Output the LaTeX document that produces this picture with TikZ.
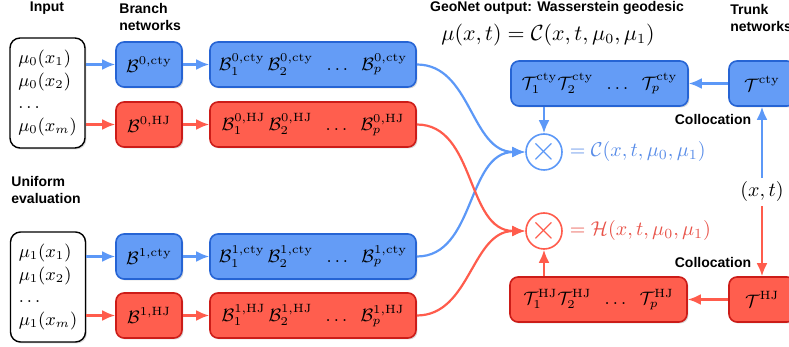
\documentclass[tikz,border=0pt]{standalone}
\usepackage{fontspec}
\newfontfamily\lblfont{Liberation Sans}
\usetikzlibrary{arrows.meta,positioning,shadows}
\definecolor{ctyfill}{RGB}{100,156,246}
\definecolor{ctydraw}{RGB}{38,100,212}
\definecolor{ctyline}{RGB}{92,152,247}
\definecolor{ctytext}{RGB}{88,140,232}
\definecolor{hjfill}{RGB}{255,94,78}
\definecolor{hjdraw}{RGB}{204,28,24}
\definecolor{hjline}{RGB}{255,92,76}
\definecolor{hjtext}{RGB}{232,82,72}
\begin{document}
\begin{tikzpicture}[x=0.5pt,y=-0.5pt,>={Latex[length=6.5pt,width=5.5pt]},
	every node/.style={font=\fontsize{9}{11.3}\selectfont},
	netbox/.style={rounded corners=4pt,line width=0.8pt,minimum height=22.5pt,inner sep=0pt,
		drop shadow={shadow xshift=0.7pt,shadow yshift=-0.7pt,opacity=0.3}},
	cty/.style={netbox,draw=ctydraw,fill=ctyfill},
	hj/.style={netbox,draw=hjdraw,fill=hjfill},
	small/.style={minimum width=33pt},
	wide/.style={minimum width=103pt},
	trunk/.style={minimum width=88.5pt},
	inbox/.style={draw,rounded corners=5pt,line width=0.7pt,fill=white,minimum width=37.5pt,
		minimum height=55pt,align=left,drop shadow={shadow xshift=0.7pt,shadow yshift=-0.7pt,opacity=0.3}},
	lbl/.style={font=\lblfont\bfseries\fontsize{7}{8.5}\selectfont,align=left,inner sep=0pt},
	prod/.style={circle,draw,fill=white,line width=0.8pt,minimum size=18pt,inner sep=0pt,
		font=\fontsize{16}{16}\selectfont},
	ctyarr/.style={->,draw=ctyline,line width=1.1pt},
	hjarr/.style={->,draw=hjline,line width=1.1pt}]
	\useasboundingbox (0,0) rectangle (789,347);
	\clip (0,0) rectangle (789,347);
	% headings
	\node[lbl] (hin) at (47,8) {Input};
	\node[lbl,anchor=west] (hbr) at (119,17) {Branch\\networks};
	\node[lbl,anchor=west] (hun) at (11,190) {Uniform\\evaluation};
	\node[lbl] (hout) at (557,8) {GeoNet output: Wasserstein geodesic};
	\node[font=\fontsize{10.5}{12}\selectfont] (geo) at (548,35) {$\mu(x,t)=\mathcal{C}(x,t,\mu_0,\mu_1)$};
	\node[lbl,anchor=west] (htr) at (730,18) {Trunk\\networks};
	% inputs
	\node[inbox] (in0) at (47.5,93) {$\mu_0(x_1)$\\$\mu_0(x_2)$\\$\dots$\\$\mu_0(x_m)$};
	\node[inbox] (in1) at (48,287) {$\mu_1(x_1)$\\$\mu_1(x_2)$\\$\dots$\\$\mu_1(x_m)$};
	% branch networks
	\node[cty,small] (b0c) at (149,64.5) {$\mathcal{B}^{0,\mathrm{cty}}$};
	\node[hj,small] (b0h) at (149,124.5) {$\mathcal{B}^{0,\mathrm{HJ}}$};
	\node[cty,small] (b1c) at (149,256.5) {$\mathcal{B}^{1,\mathrm{cty}}$};
	\node[hj,small] (b1h) at (149,315.5) {$\mathcal{B}^{1,\mathrm{HJ}}$};
	\node[cty,wide] (l0c) at (313,64.5) {$\mathcal{B}_1^{0,\mathrm{cty}}\,\mathcal{B}_2^{0,\mathrm{cty}}\;\;\dots\;\;\mathcal{B}_p^{0,\mathrm{cty}}$};
	\node[hj,wide] (l0h) at (313,124.5) {$\mathcal{B}_1^{0,\mathrm{HJ}}\,\mathcal{B}_2^{0,\mathrm{HJ}}\;\;\dots\;\;\mathcal{B}_p^{0,\mathrm{HJ}}$};
	\node[cty,wide] (l1c) at (313,256.5) {$\mathcal{B}_1^{1,\mathrm{cty}}\,\mathcal{B}_2^{1,\mathrm{cty}}\;\;\dots\;\;\mathcal{B}_p^{1,\mathrm{cty}}$};
	\node[hj,wide] (l1h) at (313,315.5) {$\mathcal{B}_1^{1,\mathrm{HJ}}\,\mathcal{B}_2^{1,\mathrm{HJ}}\;\;\dots\;\;\mathcal{B}_p^{1,\mathrm{HJ}}$};
	% trunk networks
	\node[cty,trunk] (tlc) at (599.5,83.5) {$\mathcal{T}_1^{\mathrm{cty}}\mathcal{T}_2^{\mathrm{cty}}\;\;\dots\;\;\mathcal{T}_p^{\mathrm{cty}}$};
	\node[hj,trunk] (tlh) at (598.5,299.5) {$\mathcal{T}_1^{\mathrm{HJ}}\mathcal{T}_2^{\mathrm{HJ}}\;\;\dots\;\;\mathcal{T}_p^{\mathrm{HJ}}$};
	\node[cty,small] (tc) at (762,83.5) {$\mathcal{T}^{\mathrm{cty}}$};
	\node[hj,small] (th) at (762,299.5) {$\mathcal{T}^{\mathrm{HJ}}$};
	\node[inner sep=2pt,font=\fontsize{10}{12}\selectfont] (xt) at (762,192) {$(x,t)$};
	\node[lbl] (col0) at (713,120) {Collocation};
	\node[lbl] (col1) at (713,262) {Collocation};
	% products
	\node[prod,draw=ctyline,text=ctyline] (mc) at (544,152) {$\times$};
	\node[prod,draw=hjline,text=hjline] (mh) at (544,231) {$\times$};
	\node[right=0pt of mc,text=ctytext,font=\fontsize{9.7}{12}\selectfont] (mcl) {$=\mathcal{C}(x,t,\mu_0,\mu_1)$};
	\node[right=0pt of mh,text=hjtext,font=\fontsize{9.7}{12}\selectfont] (mhl) {$=\mathcal{H}(x,t,\mu_0,\mu_1)$};
	% connectors
	\draw[ctyarr] (in0.east |- b0c) -- (b0c.west);
	\draw[hjarr] (in0.east |- b0h) -- (b0h.west);
	\draw[ctyarr] (in1.east |- b1c) -- (b1c.west);
	\draw[hjarr] (in1.east |- b1h) -- (b1h.west);
	\draw[ctyarr] (b0c) -- (l0c);
	\draw[hjarr] (b0h) -- (l0h);
	\draw[ctyarr] (b1c) -- (l1c);
	\draw[hjarr] (b1h) -- (l1h);
	\draw[ctyarr] (l0c.east) to[out=0,in=180] (mc.west);
	\draw[ctyarr] (l1c.east) to[out=0,in=180] (mc.west);
	\draw[hjarr] (l0h.east) to[out=0,in=180] (mh.west);
	\draw[hjarr] (l1h.east) to[out=0,in=180] (mh.west);
	\draw[ctyarr] (tlc.south -| mc) -- (mc.north);
	\draw[hjarr] (tlh.north -| mh) -- (mh.south);
	\draw[ctyarr] (tc) -- (tlc);
	\draw[hjarr] (th) -- (tlh);
	\draw[ctyarr] (xt) -- (tc);
	\draw[hjarr] (xt) -- (th);
\end{tikzpicture}
\end{document}
